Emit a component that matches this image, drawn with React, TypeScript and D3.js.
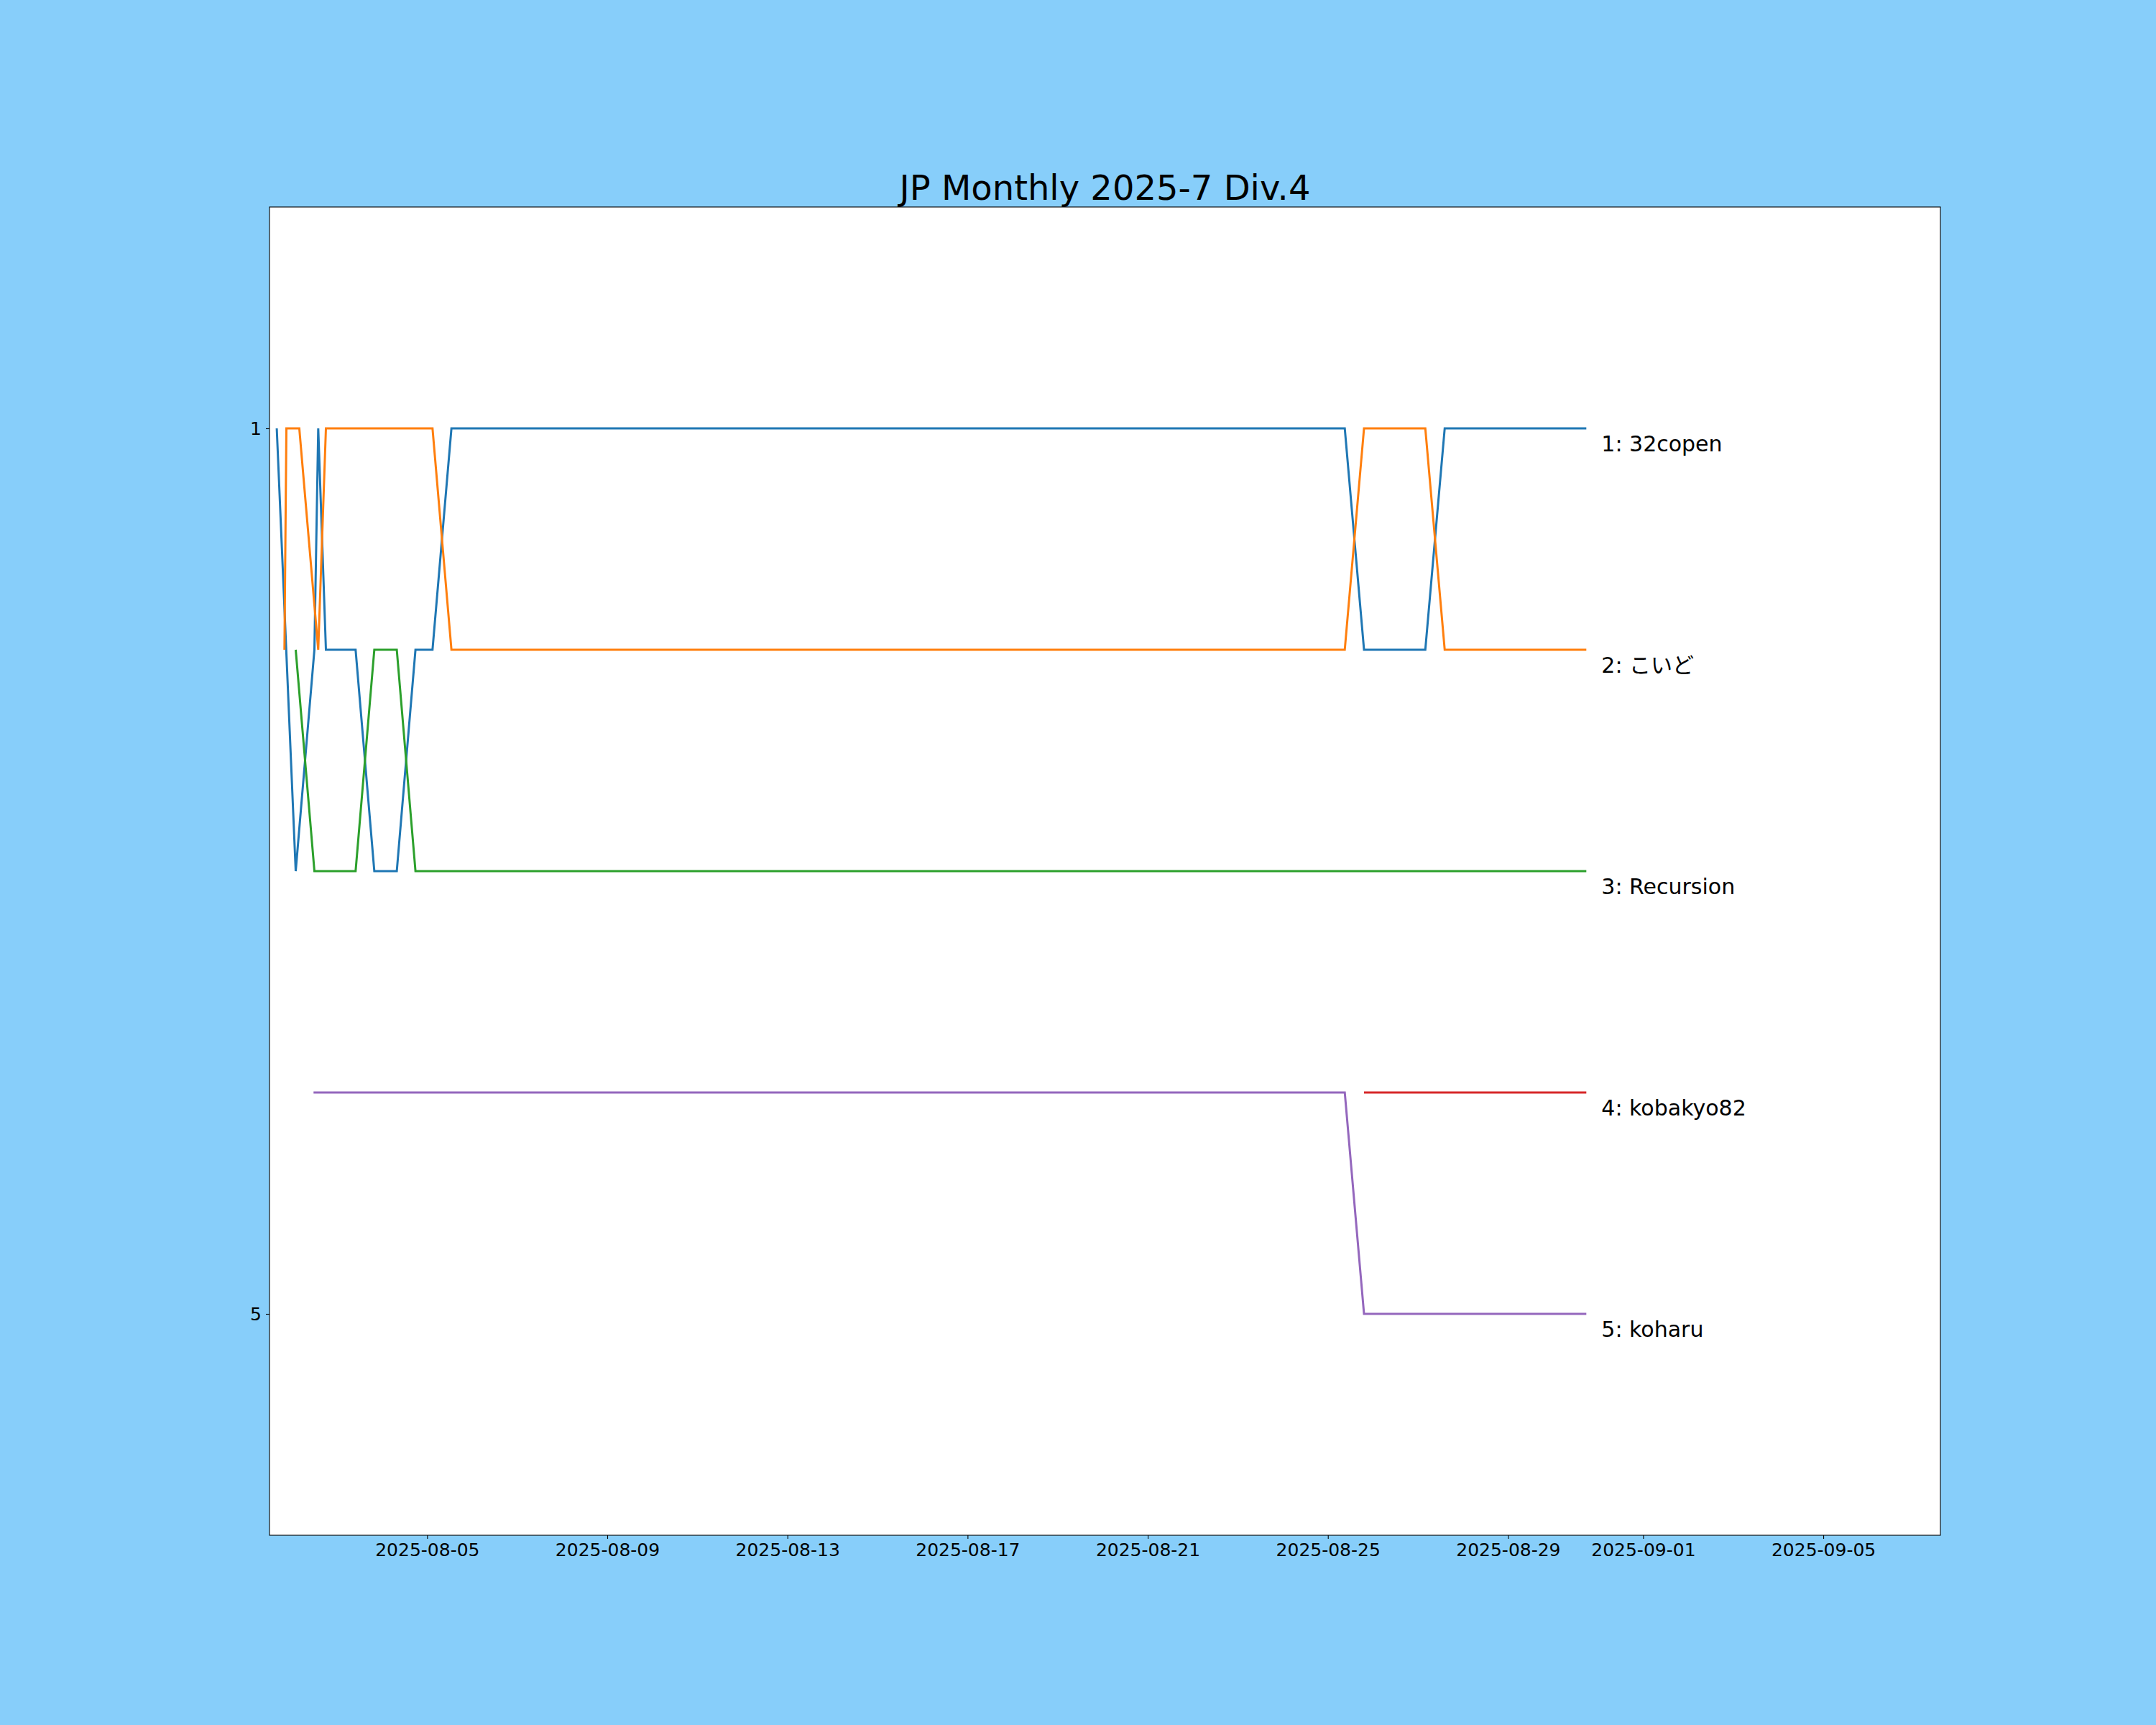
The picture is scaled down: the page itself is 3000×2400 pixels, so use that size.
import { useEffect, useRef } from 'react';
import * as d3 from 'd3';

// rank history per user (times in UTC)
const copenTimes = [
  '2025-08-01T15:52', '2025-08-02T01:58', '2025-08-02T11:56', '2025-08-02T13:58',
  '2025-08-02T18:04', '2025-08-03T09:53', '2025-08-03T19:51', '2025-08-04T07:50',
  '2025-08-04T17:47', '2025-08-05T02:52', '2025-08-05T12:57', '2025-08-25T09:00',
  '2025-08-25T19:15', '2025-08-27T03:55', '2025-08-27T14:15', '2025-08-30T17:43',
];
const copenRanks = [1, 3, 2, 1, 2, 2, 3, 3, 2, 2, 1, 1, 2, 2, 1, 1];

const koidoTimes = [
  '2025-08-01T19:58', '2025-08-01T21:00', '2025-08-02T03:53', '2025-08-02T13:58',
  '2025-08-02T18:04', '2025-08-05T02:52', '2025-08-05T12:57', '2025-08-25T09:00',
  '2025-08-25T19:15', '2025-08-27T03:55', '2025-08-27T14:15', '2025-08-30T17:43',
];
const koidoRanks = [2, 1, 1, 2, 1, 1, 2, 2, 1, 1, 2, 2];

const recursionTimes = [
  '2025-08-02T01:58', '2025-08-02T11:56', '2025-08-03T09:53', '2025-08-03T19:51',
  '2025-08-04T07:50', '2025-08-04T17:47', '2025-08-30T17:43',
];
const recursionRanks = [2, 3, 3, 2, 2, 3, 3];

const kobakyoTimes = ['2025-08-25T19:15', '2025-08-30T17:43'];
const kobakyoRanks = [4, 4];

const koharuTimes = ['2025-08-02T11:28', '2025-08-25T09:00', '2025-08-25T19:15', '2025-08-30T17:43'];
const koharuRanks = [4, 4, 5, 5];

const seriesNames = ['32copen', 'こいど', 'Recursion', 'kobakyo82', 'koharu'];
const seriesColors = ['#1f77b4', '#ff7f0e', '#2ca02c', '#d62728', '#9467bd'];

const xTickDates = [
  '2025-08-05', '2025-08-09', '2025-08-13', '2025-08-17', '2025-08-21',
  '2025-08-25', '2025-08-29', '2025-09-01', '2025-09-05',
];
const yTickValues = [1, 5];
const xDomain = ['2025-08-01T12:00', '2025-09-07T14:24'];
const title = 'JP Monthly 2025-7 Div.4';

const FONT = '"DejaVu Sans", "Noto Sans CJK JP", sans-serif';

interface Point { t: Date; r: number }

const parse = (s: string) => new Date(s + (s.length > 10 ? ':00Z' : 'T00:00:00Z'));

export default function App() {
  const svgRef = useRef<SVGSVGElement>(null);

  useEffect(() => {
    if (!svgRef.current) return;
    const svg = d3.select(svgRef.current);
    svg.selectAll('*').remove();

    const W = 3000, H = 2400;
    const margin = { top: 288, right: 300, bottom: 264, left: 375 };
    const width = W - margin.left - margin.right;
    const height = H - margin.top - margin.bottom;

    svg.attr('width', W).attr('height', H);

    svg.append('rect').attr('width', W).attr('height', H).attr('fill', '#87cefa');

    const g = svg.append('g').attr('transform', `translate(${margin.left},${margin.top})`);

    g.append('rect')
      .attr('width', width)
      .attr('height', height)
      .attr('fill', '#ffffff');

    const xScale = d3.scaleUtc()
      .domain(xDomain.map(parse))
      .range([0, width]);

    const yScale = d3.scaleLinear()
      .domain([0, 6])
      .range([0, height]);

    const series: { name: string; color: string; points: Point[] }[] = [
      [copenTimes, copenRanks],
      [koidoTimes, koidoRanks],
      [recursionTimes, recursionRanks],
      [kobakyoTimes, kobakyoRanks],
      [koharuTimes, koharuRanks],
    ].map(([times, ranks], i) => ({
      name: seriesNames[i],
      color: seriesColors[i],
      points: (times as string[]).map((t, j) => ({ t: parse(t), r: (ranks as number[])[j] })),
    }));

    const line = d3.line<Point>()
      .x(d => xScale(d.t))
      .y(d => yScale(d.r));

    // lines
    g.selectAll('.series')
      .data(series)
      .enter()
      .append('path')
      .attr('class', 'series')
      .attr('d', d => line(d.points))
      .attr('fill', 'none')
      .attr('stroke', d => d.color)
      .attr('stroke-width', 3)
      .attr('stroke-linejoin', 'miter');

    // end labels
    g.selectAll('.end-label')
      .data(series)
      .enter()
      .append('text')
      .attr('class', 'end-label')
      .attr('x', d => xScale(d.points[d.points.length - 1].t) + 21)
      .attr('y', d => yScale(d.points[d.points.length - 1].r) + 32)
      .attr('font-family', FONT)
      .attr('font-size', '30px')
      .attr('fill', '#000')
      .text(d => `${d.points[d.points.length - 1].r}: ${d.name}`);

    // x axis
    g.append('g')
      .attr('transform', `translate(0,${height})`)
      .call(
        d3.axisBottom(xScale)
          .tickValues(xTickDates.map(parse))
          .tickFormat(d => d3.utcFormat('%Y-%m-%d')(d as Date))
          .tickSize(5)
          .tickPadding(6)
      )
      .call(a => a.select('.domain').remove())
      .call(a => a.selectAll('.tick line').attr('stroke', '#000').attr('stroke-width', 1.1))
      .call(a => a.selectAll('.tick text')
        .attr('font-family', FONT)
        .attr('font-size', '25px')
        .attr('fill', '#000'));

    // y axis
    g.append('g')
      .call(
        d3.axisLeft(yScale)
          .tickValues(yTickValues)
          .tickFormat(d3.format('d'))
          .tickSize(5)
          .tickPadding(6)
      )
      .call(a => a.select('.domain').remove())
      .call(a => a.selectAll('.tick line').attr('stroke', '#000').attr('stroke-width', 1.1))
      .call(a => a.selectAll('.tick text')
        .attr('font-family', FONT)
        .attr('font-size', '25px')
        .attr('fill', '#000'));

    // frame
    g.append('rect')
      .attr('width', width)
      .attr('height', height)
      .attr('fill', 'none')
      .attr('stroke', '#000')
      .attr('stroke-width', 1.1);

    // title
    svg.append('text')
      .attr('x', margin.left + width / 2)
      .attr('y', margin.top - 10)
      .attr('text-anchor', 'middle')
      .attr('font-family', FONT)
      .attr('font-size', '48px')
      .attr('fill', '#000')
      .text(title);
  }, []);

  return (
    <div>
      <style>{'body { margin: 0; }'}</style>
      <svg ref={svgRef} style={{ display: 'block' }} />
    </div>
  );
}
